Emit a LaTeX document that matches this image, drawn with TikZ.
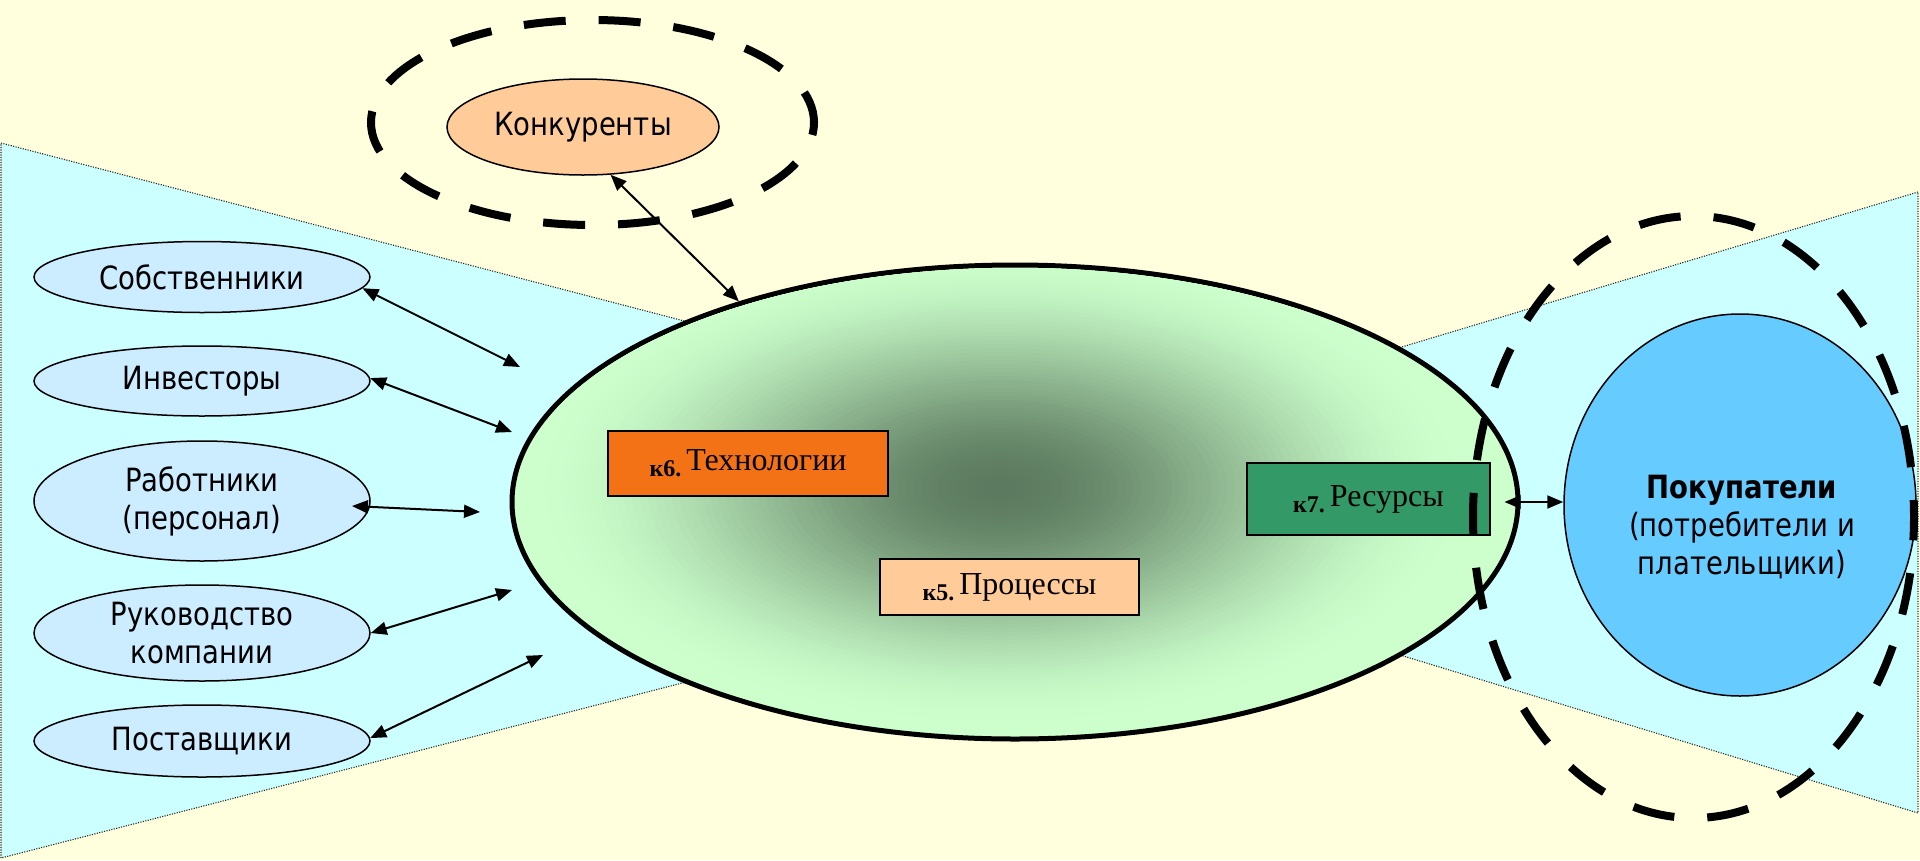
\documentclass[tikz,border=0pt]{standalone}
\usepackage{fontspec}
\usetikzlibrary{shapes.geometric,arrows.meta,calc}

\newfontfamily\labelfont{DejaVu Sans}[FakeStretch=0.86]
\newfontfamily\serifbox{Liberation Serif}
\newcommand\partyfont{\labelfont\fontsize{32}{38}\selectfont}
\newcommand\kboxfont{\serifbox\fontsize{32}{36}\selectfont}
\newcommand\kcaption[2]{{\fontsize{24}{24}\selectfont\bfseries\raisebox{-6pt}{#1}}\hspace{5pt}#2}

\definecolor{paper}{RGB}{255,255,221}
\definecolor{fan}{RGB}{204,255,255}
\definecolor{partyBlue}{RGB}{204,236,255}
\definecolor{peach}{RGB}{255,204,153}
\definecolor{coreLight}{RGB}{204,255,204}
\definecolor{coreDark}{RGB}{92,122,95}
\definecolor{techOrange}{RGB}{244,114,22}
\definecolor{resGreen}{RGB}{51,153,102}
\definecolor{buyerBlue}{RGB}{102,204,255}

\begin{document}
\begin{tikzpicture}[x=1pt,y=-1pt,
  fanarea/.style={fill=fan, draw=black!85, line width=1.1pt, dash pattern=on 1.1pt off 1.4pt},
  party/.style={ellipse, draw, line width=1.5pt, fill=partyBlue, inner sep=0pt,
                minimum width=336pt, align=center, font=\partyfont},
  ring/.style={draw, line width=8pt, dash pattern=on 42pt off 33pt},
  kbox/.style={rectangle, draw, line width=2pt, inner sep=0pt, font=\kboxfont},
  link/.style={line width=2pt, {Triangle[length=16pt,width=13pt]}-{Triangle[length=16pt,width=13pt]}},
]
\useasboundingbox (0,0) rectangle (1920,860);
\fill[paper] (0,0) rectangle (1920,860);

% stakeholder fans behind the core
\draw[fanarea] (1,143) -- (1383,503) -- (1,858) -- cycle;
\draw[fanarea] (1918,192) -- (892,500) -- (1918,813) -- cycle;

% stakeholders on the left
\node[party, minimum height=71pt]  (sob)  at (202,277) {Собственники};
\node[party, minimum height=70pt]  (inv)  at (202,381) {Инвесторы};
\node[party, minimum height=120pt] (rab)  at (202,501) {Работники\\(персонал)};
\node[party, minimum height=96pt]  (ruk)  at (202,633) {Руководство\\компании};
\node[party, minimum height=72pt]  (post) at (202,741) {Поставщики};

% competitors
\node[ellipse, draw, line width=1.5pt, fill=peach, inner sep=0pt,
      minimum width=272pt, minimum height=96pt, font=\partyfont] (konk) at (583,127) {Конкуренты};
\draw[ring, dash phase=10pt] (592.5,122.5) ellipse [x radius=221.5pt, y radius=102.5pt];

% company core with its dark centre
\node[ellipse, draw, line width=5pt, fill=coreLight, inner sep=0pt,
      minimum width=1006pt, minimum height=474pt] (core) at (1015,502) {};
\begin{scope}
  \clip (1015,502) ellipse [x radius=500pt, y radius=234pt];
  \foreach \k in {60,59,...,1}{
    \pgfmathsetmacro\t{\k/60}
    \pgfmathsetmacro\p{100*(1-(3*\t*\t-2*\t*\t*\t))}
    \pgfmathsetmacro\rx{470*\t}
    \pgfmathsetmacro\ry{240*\t}
    \fill[coreDark!\p!coreLight] (1000,488) ellipse [x radius=\rx pt, y radius=\ry pt];
  }
\end{scope}

% core components
\node[kbox, fill=techOrange, minimum width=280pt, minimum height=65pt] (tech) at (748,463.5) {\kcaption{к6.}{Технологии}};
\node[kbox, fill=peach, minimum width=259pt, minimum height=56pt] (proc) at (1009.5,587) {\kcaption{к5.}{Процессы}};
\node[kbox, fill=resGreen, minimum width=243pt, minimum height=72pt] (res) at (1368.5,499) {\kcaption{к7.}{Ресурсы}};

% customers
\node[ellipse, draw, line width=1.5pt, fill=buyerBlue, inner sep=0pt,
      minimum width=352pt, minimum height=382pt] (pok) at (1740,505) {};
\node[font=\partyfont, align=center, inner sep=0pt] (poktext) at (1742,527)
  {\textbf{Покупатели}\\(потребители и\\плательщики)};
\draw[ring, dash phase=25pt] (1693.5,517) ellipse [x radius=220.5pt, y radius=301pt];

% links
\coordinate (e1) at (520,367);
\coordinate (e2) at (512,432);
\coordinate (e3) at (480,512);
\coordinate (e4) at (512,590);
\coordinate (e5) at (543,655);
\draw[link] (sob.-4) -- (e1);
\draw[link] (inv.1) -- (e2);
\draw[link, shorten <=-18pt] (rab.-2) -- (e3);
\draw[link] (ruk.east) -- (e4);
\draw[link] (post.1.4) -- (e5);
\draw[link] (konk.-60.6) -- (core.144.5);
\draw[link, shorten <=-16pt] (core.east) -- (core.east -| pok.west);
\end{tikzpicture}
\end{document}
